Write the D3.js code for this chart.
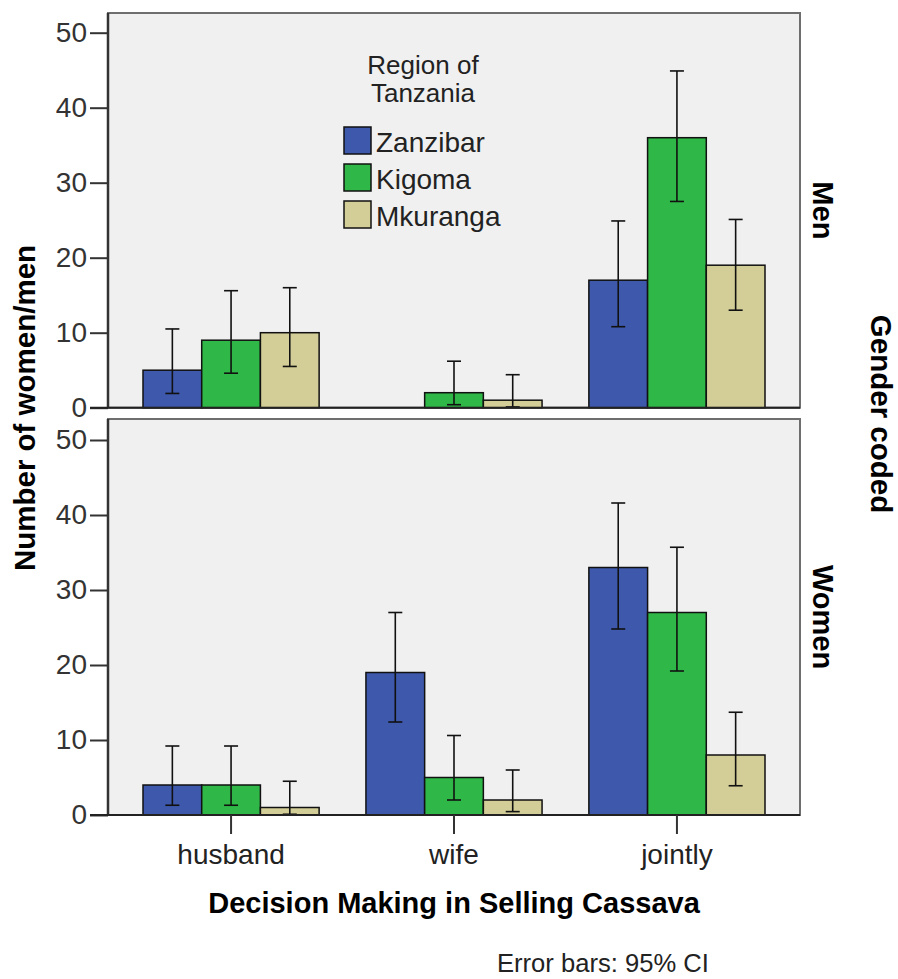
<!DOCTYPE html>
<html>
<head>
<meta charset="utf-8">
<script src="https://d3js.org/d3.v7.min.js"></script>
<style>
  body { margin: 0; background: #fff; }
  svg text { font-family: "Liberation Sans", Arial, sans-serif; }
</style>
</head>
<body>
<div id="chart"></div>
<script>
// categories and series
const categories = ["husband", "wife", "jointly"];
const regions = ["Zanzibar", "Kigoma", "Mkuranga"];
const yTicks = [0, 10, 20, 30, 40, 50];

// rows = region, columns = category
const menValues = [[5, 0, 17], [9, 2, 36], [10, 1, 19]];
const menLower  = [[1.9, null, 10.8], [4.6, 0.4, 27.5], [5.5, 0.1, 13.0]];
const menUpper  = [[10.5, null, 24.9], [15.6, 6.2, 44.9], [16.0, 4.4, 25.1]];

const womenValues = [[4, 19, 33], [4, 5, 27], [1, 2, 8]];
const womenLower  = [[1.3, 12.4, 24.8], [1.3, 2.0, 19.2], [0.1, 0.45, 3.9]];
const womenUpper  = [[9.2, 27.0, 41.6], [9.2, 10.6, 35.7], [4.5, 6.0, 13.7]];

const colors = ["#3e58ac", "#2fb847", "#d3ce97"];

const width = 898, height = 979;
const plotLeft = 108, plotRight = 800;

const svg = d3.select("#chart")
    .append("svg")
    .attr("width", width)
    .attr("height", height);

// x scales shared by both panels
const x = d3.scaleBand()
    .domain(categories)
    .range([plotLeft, plotRight])
    .paddingInner(0.21)
    .paddingOuter(0.157);

const xRegion = d3.scaleBand()
    .domain(regions)
    .range([0, x.bandwidth()]);

const panels = [
    {label: "Men", top: 13, zero: 407.7, values: menValues, lower: menLower, upper: menUpper},
    {label: "Women", top: 419, zero: 815, values: womenValues, lower: womenLower, upper: womenUpper}
];

panels.forEach(function(p, pi) {
    const y = d3.scaleLinear()
        .domain([0, 50])
        .range([p.zero, p.zero - 375]);

    const g = svg.append("g");

    // panel background + frame
    g.append("rect")
        .attr("x", plotLeft)
        .attr("y", p.top)
        .attr("width", plotRight - plotLeft)
        .attr("height", p.zero - p.top)
        .attr("fill", "#f0f0f0")
        .attr("stroke", "#6e6e6e")
        .attr("stroke-width", 2);

    // bars
    const rows = [];
    regions.forEach(function(r, ri) {
        categories.forEach(function(c, ci) {
            rows.push({region: r, ri: ri, cat: c,
                value: p.values[ri][ci], lo: p.lower[ri][ci], hi: p.upper[ri][ci]});
        });
    });

    g.selectAll("rect.bar")
        .data(rows.filter(d => d.value > 0))
        .join("rect")
        .attr("class", "bar")
        .attr("x", d => x(d.cat) + xRegion(d.region))
        .attr("y", d => y(d.value))
        .attr("width", xRegion.bandwidth())
        .attr("height", d => y(0) - y(d.value))
        .attr("fill", d => colors[d.ri])
        .attr("stroke", "#111")
        .attr("stroke-width", 1.5);

    // error bars
    const eb = g.selectAll("g.err")
        .data(rows.filter(d => d.lo !== null))
        .join("g")
        .attr("class", "err")
        .attr("transform", d => `translate(${x(d.cat) + xRegion(d.region) + xRegion.bandwidth() / 2},0)`)
        .attr("stroke", "#111")
        .attr("stroke-width", 1.6);

    eb.append("line")
        .attr("y1", d => y(d.lo))
        .attr("y2", d => y(d.hi));
    eb.append("line")
        .attr("x1", -7).attr("x2", 7)
        .attr("y1", d => y(d.hi)).attr("y2", d => y(d.hi));
    eb.append("line")
        .attr("x1", -7).attr("x2", 7)
        .attr("y1", d => y(d.lo)).attr("y2", d => y(d.lo));

    // y axis
    const ax = g.append("g")
        .attr("transform", `translate(${plotLeft},0)`)
        .call(d3.axisLeft(y).tickValues(yTicks).tickSize(18).tickSizeOuter(0).tickPadding(3));
    ax.select(".domain").remove();
    ax.selectAll(".tick line").attr("stroke", "#333").attr("stroke-width", 2);
    ax.selectAll(".tick text")
        .style("font-size", "28px")
        .attr("fill", "#333");

    // left axis line and baseline
    g.append("line")
        .attr("x1", plotLeft).attr("x2", plotLeft)
        .attr("y1", p.top).attr("y2", p.zero)
        .attr("stroke", "#333").attr("stroke-width", 2.5);
    g.append("line")
        .attr("x1", plotLeft - 18).attr("x2", plotRight)
        .attr("y1", y(0)).attr("y2", y(0))
        .attr("stroke", "#222").attr("stroke-width", 2);

    // panel label on the right
    const cy = (p.top + p.zero) / 2;
    svg.append("text")
        .attr("transform", `translate(813,${cy}) rotate(90)`)
        .attr("text-anchor", "middle")
        .style("font-size", "29px")
        .style("font-weight", "bold")
        .text(p.label);

    // category ticks only under the bottom panel
    if (pi === panels.length - 1) {
        const xa = g.append("g")
            .attr("transform", `translate(0,${p.zero})`)
            .call(d3.axisBottom(x).tickSize(19).tickSizeOuter(0).tickPadding(10));
        xa.select(".domain").remove();
        xa.selectAll(".tick line").attr("stroke", "#333").attr("stroke-width", 2);
        xa.selectAll(".tick text")
            .style("font-size", "28px")
            .attr("fill", "#222");
    }
});

// legend
const legend = svg.append("g");
legend.append("text")
    .attr("x", 423).attr("y", 74)
    .attr("text-anchor", "middle")
    .style("font-size", "26px")
    .attr("fill", "#222")
    .text("Region of");
legend.append("text")
    .attr("x", 423).attr("y", 102)
    .attr("text-anchor", "middle")
    .style("font-size", "26px")
    .attr("fill", "#222")
    .text("Tanzania");

const legendRow = d3.scaleBand()
    .domain(regions)
    .range([127, 238]);

regions.forEach(function(r, i) {
    legend.append("rect")
        .attr("x", 344)
        .attr("y", legendRow(r))
        .attr("width", 27)
        .attr("height", 27)
        .attr("fill", colors[i])
        .attr("stroke", "#111")
        .attr("stroke-width", 1.5);
    legend.append("text")
        .attr("x", 376)
        .attr("y", legendRow(r) + 25)
        .style("font-size", "28px")
        .attr("fill", "#222")
        .text(r);
});

// axis titles
svg.append("text")
    .attr("x", 454).attr("y", 913)
    .attr("text-anchor", "middle")
    .style("font-size", "29px")
    .style("font-weight", "bold")
    .text("Decision Making in Selling Cassava");

svg.append("text")
    .attr("transform", "translate(35,408) rotate(-90)")
    .attr("text-anchor", "middle")
    .style("font-size", "29.5px")
    .style("font-weight", "bold")
    .text("Number of women/men");

svg.append("text")
    .attr("transform", "translate(871,414) rotate(90)")
    .attr("text-anchor", "middle")
    .style("font-size", "29.5px")
    .style("font-weight", "bold")
    .text("Gender coded");

svg.append("text")
    .attr("x", 497).attr("y", 972)
    .style("font-size", "25.6px")
    .attr("fill", "#222")
    .text("Error bars: 95% CI");
</script>
</body>
</html>
